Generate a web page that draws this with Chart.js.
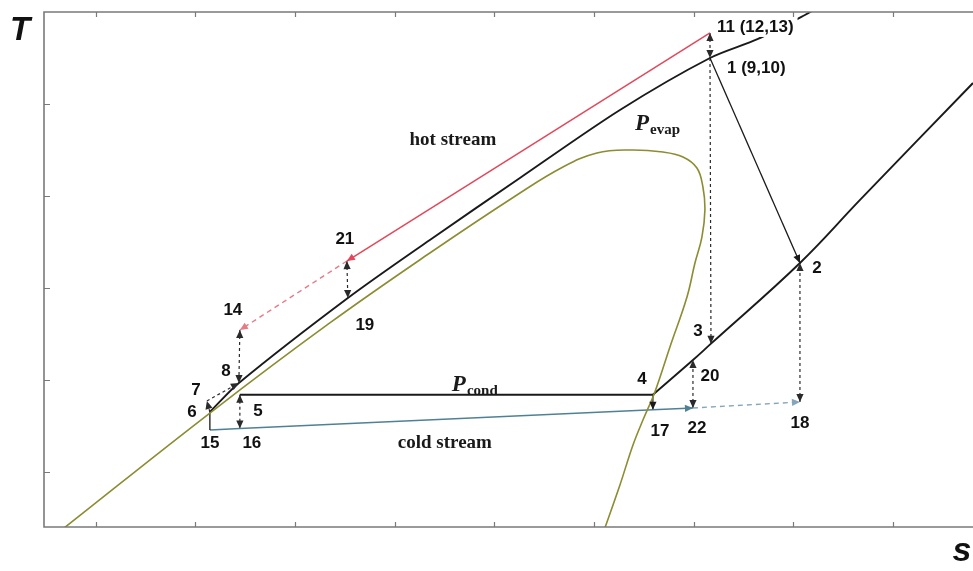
<!DOCTYPE html>
<html>
<head>
<meta charset="utf-8">
<script src="https://cdn.jsdelivr.net/npm/chart.js@4.4.1/dist/chart.umd.min.js"></script>
<style>
  html, body { margin: 0; padding: 0; background: #fff; overflow: hidden; }
  #wrap { width: 973px; height: 571px; }
</style>
</head>
<body>
<div id="wrap"><canvas id="c" width="973" height="571"></canvas></div>
<script>
// T–s diagram of a regenerative ORC with its hot and cold streams

// axis ticks (arbitrary entropy / temperature units)
const S_TICKS = [1, 2, 3, 4, 5, 6, 7, 8, 9];
const T_TICKS = [1, 2, 3, 4, 5];

// saturation dome
const domeS = [0.68, 2.145, 3.349, 4.353, 5.227, 5.689, 6.030, 6.361, 6.693, 6.894, 7.034, 7.094, 7.114, 7.084, 7.014, 6.934, 6.763, 6.612, 6.492, 6.392, 6.261, 6.110];
const domeT = [0.39, 1.641, 2.620, 3.380, 4.011, 4.315, 4.467, 4.500, 4.478, 4.424, 4.304, 4.098, 3.848, 3.554, 3.272, 2.902, 2.359, 1.870, 1.565, 1.293, 0.859, 0.391];

// evaporation isobar (6 → 8 → 19 → 1 and on into superheat)
const evapS = [2.145, 2.436, 3.530, 4.353, 5.257, 6.261, 7.165, 7.647, 8.118, 8.269];
const evapT = [1.652, 1.967, 2.891, 3.522, 4.196, 4.935, 5.500, 5.707, 5.967, 6.065];

// condensation isobar: two-phase part 5 → 4, vapour part 4 → 20 → 3 → 2 → …
const condLiqS = [2.446, 6.592];
const condLiqT = [1.840, 1.840];
const condVapS = [6.592, 6.994, 7.175, 8.068, 8.671, 9.805];
const condVapT = [1.840, 2.217, 2.395, 3.272, 3.957, 5.228];

// state points
const stateNames = ['1', '2', '3', '4', '5', '6', '7', '8', '11', '14', '15', '16', '17', '18', '19', '20', '21', '22'];
const stateS = [7.165, 8.068, 7.175, 6.592, 2.446, 2.145, 2.115, 2.436, 7.165, 2.446, 2.145, 2.446, 6.592, 8.068, 3.530, 6.994, 3.520, 6.994];
const stateT = [5.500, 3.272, 2.395, 1.840, 1.840, 1.652, 1.772, 1.967, 5.772, 2.543, 1.457, 1.472, 1.677, 1.761, 2.891, 2.217, 3.293, 1.696];

// process paths between state points
const turbinePath = ['1', '2'];
const hotSolidPath = ['11', '21'];
const hotDashPath = ['21', '14'];
const coldSolidPath = ['15', '16', '17', '22'];
const coldDashPath = ['22', '18'];
const subcoolDrop = ['6', '15'];
const condOutlet = ['4', '17'];

// temperature-difference markers: from, to, arrow at both ends
const linkFrom = ['11', '1', '21', '14', '5', '22', '18', '6', '7'];
const linkTo   = ['1', '3', '19', '8', '16', '20', '2', '7', '8'];
const linkBoth = [true, false, true, true, true, true, true, false, false];

// point labels
const labelText  = ['11 (12,13)', '1 (9,10)', '2', '3', '4', '5', '6', '7', '8', '14', '15', '16', '17', '18', '19', '20', '21', '22'];
const labelState = ['11', '1', '2', '3', '4', '5', '6', '7', '8', '14', '15', '16', '17', '18', '19', '20', '21', '22'];

// ---------------------------------------------------------------------------
const labelLayout = {
  '11 (12,13)': { dx: 7, dy: -6, align: 'left', box: true },
  '1 (9,10)':   { dx: 17, dy: 10, align: 'left' },
  '2':  { dx: 17, dy: 5 },
  '3':  { dx: -13, dy: -12 },
  '4':  { dx: -11, dy: -15 },
  '5':  { dx: 18, dy: 17 },
  '6':  { dx: -18, dy: 0 },
  '7':  { dx: -11, dy: -11 },
  '8':  { dx: -13, dy: -12 },
  '14': { dx: -7, dy: -20 },
  '15': { dx: 0, dy: 13 },
  '16': { dx: 12, dy: 15 },
  '17': { dx: 7, dy: 22 },
  '18': { dx: 0, dy: 21 },
  '19': { dx: 17, dy: 27 },
  '20': { dx: 17, dy: 16 },
  '21': { dx: -2, dy: -22 },
  '22': { dx: 4, dy: 20 }
};

const pt = name => {
  const i = stateNames.indexOf(name);
  return { x: stateS[i], y: stateT[i] };
};
const curve = (s, T) => s.map((v, i) => ({ x: v, y: T[i] }));
const path = names => names.map(pt);

const BLACK = '#1a1a1a';
const OLIVE = '#8c8c32';
const RED = '#e2475a';
const RED_LIGHT = '#e77a86';
const BLUE = '#4f8196';
const BLUE_LIGHT = '#86a5b8';

const base = { showLine: true, pointRadius: 0, fill: false, borderWidth: 1.6, tension: 0 };

const datasets = [
  { ...base, data: curve(domeS, domeT), borderColor: OLIVE, borderWidth: 1.6, tension: 0.4 },
  { ...base, data: curve(evapS, evapT), borderColor: BLACK, borderWidth: 1.9, tension: 0.3 },
  { ...base, data: curve(condLiqS, condLiqT), borderColor: BLACK, borderWidth: 1.9 },
  { ...base, data: curve(condVapS, condVapT), borderColor: BLACK, borderWidth: 1.9, tension: 0.4 },
  { ...base, data: path(turbinePath), borderColor: BLACK, borderWidth: 1.3, arrowEnd: true },
  { ...base, data: path(hotSolidPath), borderColor: RED, borderWidth: 1.5, arrowEnd: true },
  { ...base, data: path(hotDashPath), borderColor: RED_LIGHT, borderWidth: 1.4, borderDash: [5, 4], arrowEnd: true },
  { ...base, data: path(subcoolDrop), borderColor: BLACK, borderWidth: 1.3 },
  { ...base, data: path(coldSolidPath), borderColor: BLUE, borderWidth: 1.5, arrowEnd: true },
  { ...base, data: path(coldDashPath), borderColor: BLUE_LIGHT, borderWidth: 1.4, borderDash: [5, 4], arrowEnd: true },
  { ...base, data: path(condOutlet), borderColor: BLACK, borderWidth: 1.2, arrowEnd: true }
];
linkFrom.forEach((f, i) => {
  datasets.push({
    ...base, data: [pt(f), pt(linkTo[i])], borderColor: '#2a2a2a', borderWidth: 1.2,
    borderDash: [3, 3], arrowEnd: true, arrowStart: linkBoth[i]
  });
});

// arrowheads at path ends
const arrowPlugin = {
  id: 'arrows',
  afterDatasetsDraw(chart) {
    const ctx = chart.ctx;
    chart.data.datasets.forEach((ds, di) => {
      if (!ds.arrowEnd && !ds.arrowStart) return;
      const pts = chart.getDatasetMeta(di).data;
      if (pts.length < 2) return;
      const head = (tip, from) => {
        const ang = Math.atan2(tip.y - from.y, tip.x - from.x);
        const L = 8, W = 3.6;
        ctx.save();
        ctx.fillStyle = ds.borderColor;
        ctx.beginPath();
        ctx.moveTo(tip.x, tip.y);
        ctx.lineTo(tip.x - L * Math.cos(ang) + W * Math.sin(ang), tip.y - L * Math.sin(ang) - W * Math.cos(ang));
        ctx.lineTo(tip.x - L * Math.cos(ang) - W * Math.sin(ang), tip.y - L * Math.sin(ang) + W * Math.cos(ang));
        ctx.closePath();
        ctx.fill();
        ctx.restore();
      };
      if (ds.arrowEnd) head(pts[pts.length - 1], pts[pts.length - 2]);
      if (ds.arrowStart) head(pts[0], pts[1]);
    });
  }
};

// frame, inward ticks, axis letters and annotations
const framePlugin = {
  id: 'frame',
  afterDraw(chart) {
    const { ctx, chartArea: a, scales: { x, y } } = chart;
    ctx.save();
    ctx.strokeStyle = '#7a7a7a';
    ctx.lineWidth = 1.6;
    ctx.beginPath();
    ctx.moveTo(a.right + 2, a.top); ctx.lineTo(a.left, a.top);
    ctx.lineTo(a.left, a.bottom); ctx.lineTo(a.right + 2, a.bottom);
    ctx.stroke();
    ctx.lineWidth = 1.2;
    ctx.beginPath();
    S_TICKS.forEach(v => {
      const px = Math.round(x.getPixelForValue(v)) + 0.5;
      ctx.moveTo(px, a.bottom); ctx.lineTo(px, a.bottom - 5);
      ctx.moveTo(px, a.top); ctx.lineTo(px, a.top + 5);
    });
    T_TICKS.forEach(v => {
      const py = Math.round(y.getPixelForValue(v)) + 0.5;
      ctx.moveTo(a.left, py); ctx.lineTo(a.left + 6, py);
    });
    ctx.stroke();

    // axis letters
    ctx.fillStyle = '#111';
    ctx.textAlign = 'center';
    ctx.textBaseline = 'middle';
    ctx.font = 'italic bold 33px "Liberation Sans", Arial, sans-serif';
    ctx.fillText('T', a.left - 24, a.top + 19);
    ctx.font = 'italic bold 34px "Liberation Sans", Arial, sans-serif';
    ctx.fillText('s', a.right - 11, a.bottom + 25);

    // point labels
    ctx.font = 'bold 17px "Liberation Sans", Arial, sans-serif';
    labelText.forEach((txt, i) => {
      const p = pt(labelState[i]);
      const L = labelLayout[txt];
      const px = x.getPixelForValue(p.x) + L.dx;
      const py = y.getPixelForValue(p.y) + L.dy;
      ctx.textAlign = L.align || 'center';
      if (L.box) {
        const w = ctx.measureText(txt).width;
        ctx.fillStyle = '#fff';
        ctx.fillRect(px - 2, py - 10, w + 6, 20);
      }
      ctx.fillStyle = '#111';
      ctx.fillText(txt, px, py);
    });

    // stream names
    ctx.textAlign = 'center';
    ctx.font = 'bold 19px "Liberation Serif", "Times New Roman", serif';
    ctx.fillStyle = '#1a1a1a';
    ctx.fillText('hot stream', x.getPixelForValue(4.584), y.getPixelForValue(4.609));
    ctx.fillText('cold stream', x.getPixelForValue(4.504), y.getPixelForValue(1.315));

    // pressure labels with subscripts
    const pressure = (sub, sVal, tVal) => {
      let px = x.getPixelForValue(sVal);
      const py = y.getPixelForValue(tVal);
      ctx.textAlign = 'left';
      ctx.textBaseline = 'alphabetic';
      ctx.font = 'italic bold 23px "Liberation Serif", "Times New Roman", serif';
      ctx.fillText('P', px, py + 8);
      px += ctx.measureText('P').width + 1;
      ctx.font = 'bold 15px "Liberation Serif", "Times New Roman", serif';
      ctx.fillText(sub, px, py + 12);
    };
    pressure('evap', 6.412, 4.804);
    pressure('cond', 4.574, 1.967);
    ctx.restore();
  }
};

new Chart(document.getElementById('c'), {
  type: 'scatter',
  data: { datasets },
  options: {
    responsive: false,
    animation: false,
    layout: { padding: { left: 44, top: 12, right: 0, bottom: 44 } },
    plugins: { legend: { display: false }, tooltip: { enabled: false } },
    scales: {
      x: { type: 'linear', min: 0.48, max: 9.805, display: false },
      y: { type: 'linear', min: 0.402, max: 6.0, display: false }
    }
  },
  plugins: [arrowPlugin, framePlugin]
});
</script>
</body>
</html>
